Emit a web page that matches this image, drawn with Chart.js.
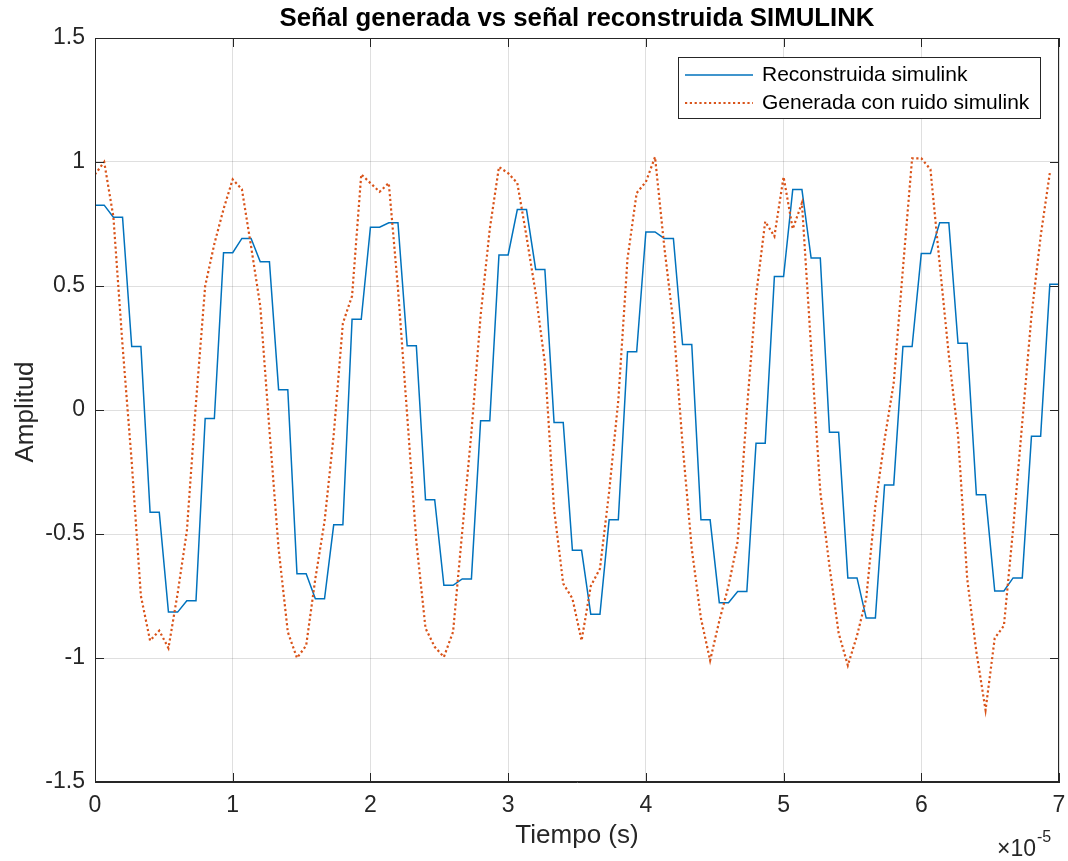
<!DOCTYPE html>
<html>
<head>
<meta charset="utf-8">
<script src="https://cdn.jsdelivr.net/npm/chart.js@4"></script>
<style>
  html, body { margin: 0; padding: 0; background: #fff; }
  canvas { display: block; }
</style>
</head>
<body>
<canvas id="grafico" width="1068" height="861"></canvas>
<script>
// Paso de muestreo de la simulación, en unidades de 10^-5 s (eje x)
const paso = 1 / 15;

// Señal reconstruida (retención de cada muestra durante dos pasos)
const reconstruida = [
  0.826, 0.826, 0.777, 0.777, 0.256, 0.256, -0.412, -0.412, -0.815, -0.815,
  -0.769, -0.769, -0.034, -0.034, 0.634, 0.634, 0.692, 0.692, 0.598, 0.598,
  0.082, 0.082, -0.660, -0.660, -0.761, -0.761, -0.463, -0.463, 0.366, 0.366,
  0.737, 0.737, 0.755, 0.755, 0.259, 0.259, -0.362, -0.362, -0.707, -0.707,
  -0.681, -0.681, -0.043, -0.043, 0.625, 0.625, 0.808, 0.808, 0.567, 0.567,
  -0.050, -0.050, -0.566, -0.566, -0.824, -0.824, -0.443, -0.443, 0.235, 0.235,
  0.718, 0.718, 0.692, 0.692, 0.264, 0.264, -0.443, -0.443, -0.777, -0.777,
  -0.732, -0.732, -0.134, -0.134, 0.538, 0.538, 0.889, 0.889, 0.613, 0.613,
  -0.090, -0.090, -0.677, -0.677, -0.839, -0.839, -0.302, -0.302, 0.256, 0.256,
  0.631, 0.631, 0.755, 0.755, 0.269, 0.269, -0.342, -0.342, -0.730, -0.730,
  -0.677, -0.677, -0.106, -0.106, 0.507, 0.507
];

// Señal generada con ruido
const generada = [
  0.95, 1.00, 0.78, 0.26, -0.21, -0.75, -0.93, -0.89, -0.96, -0.74,
  -0.49, 0.03, 0.50, 0.67, 0.81, 0.93, 0.89, 0.66, 0.42, -0.08,
  -0.56, -0.895, -1.00, -0.95, -0.68, -0.45, -0.10, 0.35, 0.46, 0.95,
  0.915, 0.88, 0.915, 0.49, -0.02, -0.53, -0.88, -0.955, -0.996, -0.895,
  -0.49, -0.09, 0.38, 0.73, 0.98, 0.955, 0.915, 0.70, 0.47, 0.19,
  -0.40, -0.70, -0.76, -0.93, -0.71, -0.64, -0.33, 0.04, 0.61, 0.875,
  0.92, 1.02, 0.66, 0.35, -0.14, -0.56, -0.84, -1.01, -0.85, -0.71,
  -0.53, 0.00, 0.46, 0.76, 0.70, 0.94, 0.73, 0.835, 0.25, -0.33,
  -0.63, -0.90, -1.03, -0.91, -0.76, -0.385, -0.12, 0.11, 0.57, 1.015,
  1.015, 0.97, 0.59, 0.22, -0.10, -0.68, -0.975, -1.21, -0.92, -0.87,
  -0.48, -0.05, 0.38, 0.70, 0.955
];

const etiquetas = ['Reconstruida simulink', 'Generada con ruido simulink'];
const titulo = 'Señal generada vs señal reconstruida SIMULINK';
const tituloX = 'Tiempo (s)';
const tituloY = 'Amplitud';

const AZUL = '#0072BD';
const NARANJA = '#D95319';
const EJE = '#262626';
const FUENTE = '"Liberation Sans", Arial, Helvetica, sans-serif';

Chart.defaults.font.family = FUENTE;

const aPuntos = serie => serie.map((v, i) => ({ x: i * paso, y: v }));

// Caja, marcas interiores, títulos y leyenda al estilo MATLAB
const marcoMatlab = {
  id: 'marcoMatlab',
  afterDraw(chart) {
    const { ctx, chartArea: a, scales: { x, y } } = chart;
    const largo = 9;
    ctx.save();

    ctx.strokeStyle = EJE;
    ctx.lineWidth = 1;
    ctx.strokeRect(a.left + 0.5, a.top + 0.5, a.right - a.left - 1, a.bottom - a.top - 1);

    ctx.beginPath();
    x.ticks.forEach(t => {
      const px = Math.round(x.getPixelForValue(t.value)) + 0.5;
      ctx.moveTo(px, a.bottom); ctx.lineTo(px, a.bottom - largo);
      ctx.moveTo(px, a.top); ctx.lineTo(px, a.top + largo);
    });
    y.ticks.forEach(t => {
      const py = Math.round(y.getPixelForValue(t.value)) + 0.5;
      ctx.moveTo(a.left, py); ctx.lineTo(a.left + largo, py);
      ctx.moveTo(a.right, py); ctx.lineTo(a.right - largo, py);
    });
    ctx.stroke();

    const cx = (a.left + a.right) / 2;

    ctx.fillStyle = '#000';
    ctx.font = 'bold 25.8px ' + FUENTE;
    ctx.textAlign = 'center';
    ctx.textBaseline = 'middle';
    ctx.fillText(titulo, cx, 19);

    ctx.fillStyle = EJE;
    ctx.font = '26px ' + FUENTE;
    ctx.fillText(tituloX, cx, 836);

    ctx.save();
    ctx.translate(26, (a.top + a.bottom) / 2 + 2);
    ctx.rotate(-Math.PI / 2);
    ctx.fillText(tituloY, 0, 0);
    ctx.restore();

    // multiplicador del eje x
    ctx.textAlign = 'left';
    ctx.font = '23px ' + FUENTE;
    ctx.fillText('\u00d710', 997, 850);
    const w = ctx.measureText('\u00d710').width;
    ctx.font = '16px ' + FUENTE;
    ctx.fillText('-5', 997 + w + 1, 838);

    // leyenda
    const lx = a.right - 381, ly = a.top + 19, lw = 362, lh = 61;
    ctx.fillStyle = '#fff';
    ctx.fillRect(lx, ly, lw, lh);
    ctx.strokeStyle = EJE;
    ctx.lineWidth = 1;
    ctx.strokeRect(lx + 0.5, ly + 0.5, lw, lh);

    const filas = [ly + 18, ly + 46];
    chart.data.datasets.forEach((ds, i) => {
      ctx.beginPath();
      ctx.strokeStyle = ds.borderColor;
      ctx.lineWidth = ds.borderWidth;
      ctx.setLineDash(ds.borderDash || []);
      ctx.moveTo(lx + 7, filas[i]);
      ctx.lineTo(lx + 75, filas[i]);
      ctx.stroke();
      ctx.setLineDash([]);
      ctx.fillStyle = '#000';
      ctx.font = '21px ' + FUENTE;
      ctx.fillText(etiquetas[i], lx + 84, filas[i]);
    });

    ctx.restore();
  }
};

new Chart(document.getElementById('grafico'), {
  type: 'line',
  data: {
    datasets: [
      {
        label: etiquetas[0],
        data: aPuntos(reconstruida),
        borderColor: AZUL,
        borderWidth: 1.5,
        pointRadius: 0,
        tension: 0,
        order: 1
      },
      {
        label: etiquetas[1],
        data: aPuntos(generada),
        borderColor: NARANJA,
        borderWidth: 2.2,
        borderDash: [2.2, 2.6],
        pointRadius: 0,
        tension: 0,
        order: 0
      }
    ]
  },
  options: {
    responsive: false,
    animation: false,
    layout: { padding: { top: 38, right: 9, left: 0, bottom: 0 } },
    plugins: {
      legend: { display: false },
      title: { display: false },
      tooltip: { enabled: false }
    },
    scales: {
      x: {
        type: 'linear',
        min: 0,
        max: 7,
        afterFit: s => { s.height = 79; s.paddingLeft = 0; s.paddingRight = 0; },
        ticks: {
          stepSize: 1,
          color: EJE,
          padding: 10,
          maxRotation: 0,
          font: { size: 23 },
          callback: v => String(v)
        },
        grid: { color: 'rgba(38,38,38,0.15)', drawTicks: false },
        border: { color: EJE }
      },
      y: {
        min: -1.5,
        max: 1.5,
        afterFit: s => { s.width = 95; s.paddingTop = 0; s.paddingBottom = 0; },
        ticks: {
          stepSize: 0.5,
          color: EJE,
          padding: 10,
          font: { size: 23 },
          callback: v => String(v)
        },
        grid: { color: 'rgba(38,38,38,0.15)', drawTicks: false },
        border: { color: EJE }
      }
    }
  },
  plugins: [marcoMatlab]
});
</script>
</body>
</html>
